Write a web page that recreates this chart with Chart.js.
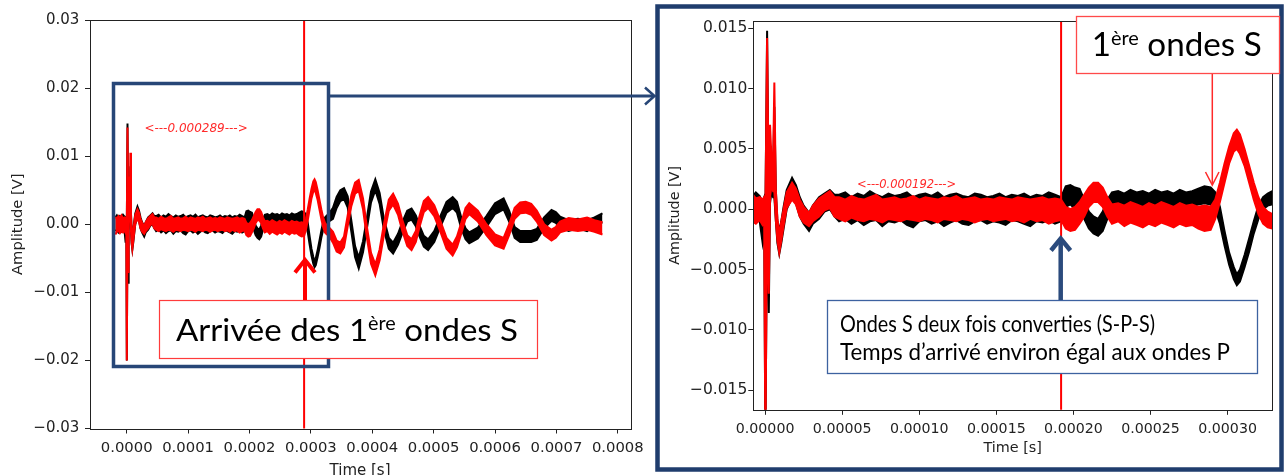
<!DOCTYPE html>
<html><head><meta charset="utf-8">
<script src="https://cdn.jsdelivr.net/npm/chart.js@4.4.1/dist/chart.umd.min.js"></script>
<style>
html,body{margin:0;padding:0;background:#fff;width:1284px;height:475px;overflow:hidden;}
canvas{position:absolute;top:0;}
#left{left:0;}
#right{left:655px;}
#overlay{left:0;pointer-events:none;}
</style></head><body>
<canvas id="left" width="650" height="475"></canvas>
<canvas id="right" width="629" height="475"></canvas>
<canvas id="overlay" width="1284" height="475"></canvas>
<script>
// ---- data: time in microseconds, amplitudes in millivolts (upper / lower edge of each noisy trace) ----
const timeUs = [
 -18.5,-16,-13.5,-11,-8.5,-6,-3.5,-1.7,-0.6,
 0.2,1.3,2.4,3.2,4.2,5.2,6.0,7.0,8.0,9.2,10.5,12,14,17.5,20,22.5,25,28.5,31,35,38.5,42,45,
 48,52,56,60,64,68,72,76,80,84,88,92,96,100,104,108,112,116,120,124,128,132,136,140,144,148,152,156,160,164,168,172,176,180,184,188,
 192,195,198,201,204,207,210,213,216,219,222,225,229,233,237,241,245,249,253,257,261,265,269,273,277,281,285,289,292,295,298,301,304,306,308,311,314,317,320,323,326,329,
 336,342,348,354,360,366,372,378,385,391,398,405,412,419,427,434,442,449,457,464,471,477,484,491,501,511,521,531,538,545,552,558,572,586,600,614,623,632,641,650,659,668,680,692,699,706,720,735,750,762,775
];
const blackHi = [
 1.0,1.3,0.9,1.2,1.0,1.4,1.1,0.6,1.0,
 0.0,14.8,0.5,3.5,3.0,3.0,8.5,1.5,-1.0,-1.8,-1.0,0.2,1.6,2.6,2.0,1.0,0.3,-0.3,0.3,1.0,1.3,1.6,1.2,
 1.2,1.4,1.0,1.3,1.1,1.5,1.2,1.0,1.3,1.1,1.2,1.4,1.0,1.2,1.3,1.1,1.4,1.0,1.2,1.3,1.1,1.0,1.3,1.2,1.0,1.1,1.3,1.0,1.2,1.1,1.3,1.0,1.2,1.1,1.4,1.2,
 1.0,1.9,2.0,1.8,1.7,0.8,-0.2,-0.6,-0.8,-0.2,0.8,1.4,1.5,1.3,1.6,1.4,1.5,1.3,1.6,1.4,1.5,1.3,1.6,1.4,1.5,1.7,1.9,1.8,1.4,0.2,-1.8,-3.6,-4.8,-5.4,-5.0,-3.8,-2.4,-1.0,0.3,1.0,1.3,1.5,
 2.4,4.0,5.0,5.3,4.1,0.5,-3.2,-4.9,-2.5,0.8,4.8,6.6,4.6,0.8,-2.0,-2.7,-1.4,0.3,2.0,2.3,1.3,-0.2,-1.7,-2.2,-1.0,1.2,3.3,4.0,3.3,1.0,-0.6,-1.2,-0.5,1.2,3.1,3.8,2.0,-0.4,-1.0,-1.0,-1.0,-0.7,1.0,2.1,1.8,1.1,0.6,0.8,0.6,1.0,1.6
];
const blackLo = [
 -1.0,-0.8,-1.2,-0.9,-1.1,-0.8,-1.0,-2.7,-1.2,
 -20,0.0,-8.6,0.5,1.5,1.0,1.0,-1.0,-2.8,-3.7,-2.8,-1.6,0.0,1.0,0.5,-0.6,-1.2,-1.8,-1.2,-0.8,-0.2,0.0,-0.6,
 -1.0,-0.8,-1.2,-0.9,-1.3,-1.0,-0.9,-1.4,-1.0,-1.1,-0.9,-1.3,-1.5,-1.0,-0.9,-1.2,-1.0,-1.4,-1.1,-0.9,-1.2,-1.3,-1.0,-0.9,-1.2,-1.0,-1.1,-1.3,-0.9,-1.0,-1.2,-1.4,-1.0,-1.1,-0.9,-1.2,
 -1.0,0.2,0.4,0.0,-0.2,-0.8,-1.6,-2.0,-2.2,-1.8,-0.8,0.0,0.2,-0.1,0.3,0.1,0.2,-0.2,0.2,0.0,0.1,-0.1,0.2,0.0,0.2,0.4,0.5,0.4,0.0,-1.2,-3.0,-4.6,-5.8,-6.3,-6.0,-4.8,-3.5,-2.0,-0.8,0.0,0.3,0.4,
 0.8,2.4,3.4,3.7,2.5,-1.1,-4.8,-6.5,-4.1,-0.8,3.2,5.0,3.0,-0.8,-3.6,-4.3,-3.0,-1.3,0.4,0.7,-0.3,-1.8,-3.3,-3.8,-2.6,-0.4,1.7,2.4,1.7,-0.6,-2.2,-2.8,-2.1,-0.4,1.5,2.2,0.4,-2.0,-2.6,-2.6,-2.6,-2.3,-0.6,0.5,0.2,-0.5,-1.0,-0.6,-1.0,-0.2,0.3
];
const redHi = [
 1.1,0.8,1.2,0.9,1.3,0.9,1.0,0.8,1.0,
 0.0,14.2,0.8,7.0,4.1,4.0,10.5,1.5,-0.8,-2.1,-1.0,0.0,1.4,2.2,1.7,0.8,0.2,-0.3,0.3,0.9,1.2,1.5,1.0,
 1.0,0.8,1.1,0.9,0.8,1.0,1.2,0.8,0.9,1.0,0.8,0.9,1.1,0.8,1.0,0.9,0.8,1.0,0.9,1.1,0.8,0.9,1.0,0.8,0.9,0.8,1.0,0.9,0.8,1.0,0.9,0.8,0.9,1.0,0.8,0.9,
 0.8,0.2,0.0,0.2,0.6,1.2,1.8,2.2,2.2,1.8,1.0,0.4,0.5,0.3,0.6,0.4,0.2,0.5,0.3,0.6,0.4,0.2,0.5,0.3,0.4,0.2,0.3,0.2,0.8,2.2,3.8,5.2,6.3,6.6,6.2,5.0,3.6,2.2,1.0,0.2,-0.2,-0.4,
 -1.1,-2.4,-2.7,-1.8,1.3,4.3,6.1,6.5,3.8,-0.2,-4.2,-5.9,-3.7,0.0,3.6,4.5,3.0,0.6,-1.6,-2.2,-1.0,1.2,3.4,4.0,2.8,0.5,-2.0,-3.0,-1.8,0.2,2.4,3.1,2.0,0.0,-1.5,-2.0,0.0,2.4,3.2,3.3,3.0,2.0,0.0,-0.8,-0.4,0.4,0.9,0.7,1.0,0.6,0.3
];
const redLo = [
 -1.5,-1.1,-0.9,-1.3,-1.0,-1.2,-0.9,-1.3,-1.0,
 -20,0.0,-7.0,1.0,2.0,1.5,1.5,-1.0,-2.6,-3.6,-2.6,-1.4,0.1,0.8,0.4,-0.6,-1.1,-1.4,-1.0,-0.6,-0.1,0.1,-0.6,
 -0.8,-1.0,-0.7,-0.9,-1.0,-0.8,-0.9,-1.1,-0.8,-0.9,-1.0,-0.8,-0.9,-1.0,-0.8,-0.9,-1.1,-0.8,-0.9,-1.0,-0.8,-0.9,-1.1,-0.9,-0.8,-1.0,-0.9,-0.8,-1.0,-0.9,-1.1,-0.8,-1.0,-0.9,-1.2,-1.0,
 -0.9,-1.6,-1.8,-1.7,-1.2,-0.6,0.2,0.6,0.6,0.2,-0.6,-1.2,-1.0,-1.4,-1.1,-1.3,-1.5,-1.2,-1.4,-1.1,-1.3,-1.5,-1.2,-1.4,-1.3,-1.6,-1.8,-1.7,-0.8,0.6,2.2,3.8,4.8,5.0,4.6,3.6,2.2,0.8,-0.4,-1.2,-1.5,-1.6,
 -2.7,-4.0,-4.3,-3.4,-0.3,2.7,4.5,4.9,2.2,-1.8,-5.8,-7.5,-5.3,-1.6,2.0,2.9,1.4,-1.0,-3.2,-3.8,-2.6,-0.4,1.8,2.4,1.2,-1.1,-3.6,-4.6,-3.4,-1.4,0.8,1.5,0.4,-1.6,-3.1,-3.6,-1.6,0.8,1.6,1.7,1.4,0.4,-1.6,-2.4,-2.0,-1.2,-0.8,-1.0,-0.8,-1.1,-1.5
];

// ticks
const leftXTicks = [0,100,200,300,400,500,600,700,800];
const leftXLabels = ['0.0000','0.0001','0.0002','0.0003','0.0004','0.0005','0.0006','0.0007','0.0008'];
const leftYTicks = [-30,-20,-10,0,10,20,30];
const leftYLabels = ['\u22120.03','\u22120.02','\u22120.01','0.00','0.01','0.02','0.03'];
const rightXTicks = [0,50,100,150,200,250,300];
const rightXLabels = ['0.00000','0.00005','0.00010','0.00015','0.00020','0.00025','0.00030'];
const rightYTicks = [-15,-10,-5,0,5,10,15];
const rightYLabels = ['\u22120.015','\u22120.010','\u22120.005','0.000','0.005','0.010','0.015'];

// annotation values
const leftMarkerUs = 289, leftMarkerText = '<---0.000289--->', leftMarkerTextPos = [113, 13.95];
const rightMarkerUs = 192, rightMarkerText = '<---0.000192--->', rightMarkerTextPos = [91.8, 2.0];

const FONT = 'DejaVu Sans';
const INK = '#222';

function buildDatasets(){
  const pts = arr => timeUs.map((t,i)=>({x:t, y:arr[i]}));
  const base = {pointRadius:0, borderWidth:2, tension:0};
  return [
    Object.assign({data:pts(redHi), borderColor:'#ff0000', backgroundColor:'#ff0000', fill:'+1'}, base),
    Object.assign({data:pts(redLo), borderColor:'#ff0000', fill:false}, base),
    Object.assign({data:pts(blackHi), borderColor:'#000000', backgroundColor:'#000000', fill:'+1'}, base),
    Object.assign({data:pts(blackLo), borderColor:'#000000', fill:false}, base)
  ];
}

const markPlugin = {
  id:'mark',
  afterDatasetsDraw(chart, args, o){
    const {ctx, chartArea:a, scales:{x,y}} = chart;
    ctx.save();
    const px = x.getPixelForValue(o.t);
    ctx.strokeStyle = '#ff0000'; ctx.lineWidth = 2;
    ctx.beginPath(); ctx.moveTo(px, a.top); ctx.lineTo(px, a.bottom); ctx.stroke();
    ctx.font = 'italic ' + o.size + 'px "' + FONT + '"';
    ctx.fillStyle = '#ff2a2a'; ctx.textAlign = 'center'; ctx.textBaseline = 'middle';
    ctx.fillText(o.text, x.getPixelForValue(o.pos[0]), y.getPixelForValue(o.pos[1]));
    ctx.strokeStyle = INK; ctx.lineWidth = 1;
    ctx.strokeRect(Math.round(a.left)+0.5, Math.round(a.top)+0.5, Math.round(a.right)-Math.round(a.left), Math.round(a.bottom)-Math.round(a.top));
    ctx.restore();
  }
};

function makeChart(id, c){
  return new Chart(document.getElementById(id), {
    type:'line',
    data:{datasets:buildDatasets()},
    plugins:[markPlugin],
    options:{
      responsive:false, animation:false, devicePixelRatio:1,
      layout:{padding:{left:0, top:c.top, right:c.right, bottom:0}},
      plugins:{legend:{display:false}, tooltip:{enabled:false},
        mark:{t:c.markT, text:c.markText, pos:c.markPos, size:c.markSize}},
      scales:{
        x:{type:'linear', min:c.xmin, max:c.xmax,
          afterFit(s){ s.height = c.xh; },
          afterBuildTicks(s){ s.ticks = c.xTicks.map(v=>({value:v})); },
          border:{display:false},
          grid:{drawOnChartArea:false, drawTicks:true, tickLength:5, tickColor:INK, tickWidth:1},
          ticks:{autoSkip:false, maxRotation:0, padding:c.xpad, color:INK,
            font:{family:FONT, size:c.xfs}, callback:(v,i)=>c.xLabels[i]},
          title:{display:true, text:'Time [s]', color:INK,
            font:{family:FONT, size:c.xtfs, lineHeight:1}, padding:{top:0, bottom:c.xtpb}}
        },
        y:{type:'linear', min:c.ymin, max:c.ymax,
          afterFit(s){ s.width = c.yw; },
          afterBuildTicks(s){ s.ticks = c.yTicks.map(v=>({value:v})); },
          border:{display:false},
          grid:{drawOnChartArea:false, drawTicks:true, tickLength:c.ytl, tickColor:INK, tickWidth:1},
          ticks:{autoSkip:false, padding:c.ypad, color:INK,
            font:{family:FONT, size:c.yfs}, callback:(v,i)=>c.yLabels[i]},
          title:{display:true, text:'Amplitude [V]', color:INK,
            font:{family:FONT, size:c.ytfs, lineHeight:1.2}, padding:{top:c.ytpt, bottom:0}}
        }
      }
    }
  });
}

makeChart('left', {top:20, right:13.6, xmin:-60.6, xmax:820.8, ymin:-30, ymax:30,
  xh:46.5, yw:89.5, xTicks:leftXTicks, xLabels:leftXLabels, yTicks:leftYTicks, yLabels:leftYLabels,
  xpad:6, xfs:14.8, xtfs:15, xtpb:-3.5, ytl:4.5, ypad:5.7, yfs:15, ytfs:14.7, ytpt:9.2,
  markT:leftMarkerUs, markText:leftMarkerText, markPos:leftMarkerTextPos, markSize:12});

makeChart('right', {top:21, right:12, xmin:-7.65, xmax:328.8, ymin:-16.63, ymax:15.61,
  xh:65.2, yw:98.3, xTicks:rightXTicks, xLabels:rightXLabels, yTicks:rightYTicks, yLabels:rightYLabels,
  xpad:6, xfs:14.2, xtfs:14.4, xtpb:20, ytl:5, ypad:1, yfs:15.5, ytfs:14.3, ytpt:11.9,
  markT:rightMarkerUs, markText:rightMarkerText, markPos:rightMarkerTextPos, markSize:11.5});

// ---- overlay callouts ----
const o = document.getElementById('overlay').getContext('2d');
function richText(segs, left, baseline, capH, width, family, color){
  o.save();
  o.font = '100px "' + family + '"';
  const capRatio = o.measureText('H').actualBoundingBoxAscent / 100;
  const F = capH / capRatio, SF = F*0.6, rise = F*0.34;
  let w = 0;
  for (const s of segs){ o.font = (s.sup?SF:F) + 'px "' + family + '"'; w += o.measureText(s.t).width; }
  o.translate(left, baseline); o.scale(width / w, 1);
  o.fillStyle = color; o.textAlign = 'left'; o.textBaseline = 'alphabetic';
  let x = 0;
  for (const s of segs){
    o.font = (s.sup?SF:F) + 'px "' + family + '"';
    o.fillText(s.t, x, s.sup ? -rise : 0);
    x += o.measureText(s.t).width;
  }
  o.restore();
}
function box(x,y,w,h,stroke,lw){
  o.fillStyle = '#fff'; o.fillRect(x,y,w,h);
  o.strokeStyle = stroke; o.lineWidth = lw; o.strokeRect(x,y,w,h);
}
function polyline(pts, color, lw){
  o.strokeStyle = color; o.lineWidth = lw; o.lineJoin = 'miter'; o.lineCap = 'butt';
  o.beginPath(); o.moveTo(pts[0][0], pts[0][1]);
  for (let i=1;i<pts.length;i++) o.lineTo(pts[i][0], pts[i][1]);
  o.stroke();
}
const BLUE = '#274677';
// left zoom box and connector
o.strokeStyle = BLUE; o.lineWidth = 3.5; o.strokeRect(113.5, 83.5, 215, 283);
polyline([[330,96],[654,96]], BLUE, 3);
polyline([[645,87.5],[654.5,96],[645,104.5]], BLUE, 2.5);
// right frame
o.strokeStyle = '#1f3d6d'; o.lineWidth = 4.5; o.strokeRect(657.5, 6.5, 624, 463);

// left callout
box(159.5, 300.5, 378, 58, '#ff3b3b', 1.2);
richText([{t:'Arrivée des 1'},{t:'ère',sup:true},{t:' ondes S'}], 176, 340.7, 22.4, 342, 'Lato', '#000');
polyline([[305,300],[305,262]], '#ff0000', 4);
polyline([[295,272.5],[305,260],[315,272.5]], '#ff0000', 4);

// right bottom callout
box(827.5, 300.5, 430, 73, '#3d62a0', 1.3);
richText([{t:'Ondes S deux fois converties (S-P-S)'}], 840, 331.7, 16.7, 315, 'Lato', '#000');
richText([{t:'Temps d\u2019arrivé environ égal aux ondes P'}], 840, 360, 16.7, 390, 'Lato', '#000');
polyline([[1060.7,300],[1060.7,241]], '#2b4b7d', 4.5);
polyline([[1051,250.5],[1060.7,238.5],[1070.4,250.5]], '#2b4b7d', 4.5);

// right top callout
box(1076.5, 16.5, 203, 57, '#ff4a4a', 1.3);
richText([{t:'1'},{t:'ère',sup:true},{t:' ondes S'}], 1091.7, 56, 24.3, 170, 'Lato', '#000');
polyline([[1212.3,74],[1212.3,184]], '#ff2a2a', 1.5);
polyline([[1205.5,172],[1212.3,185],[1219,172]], '#ff2a2a', 1.5);
</script>
</body></html>
